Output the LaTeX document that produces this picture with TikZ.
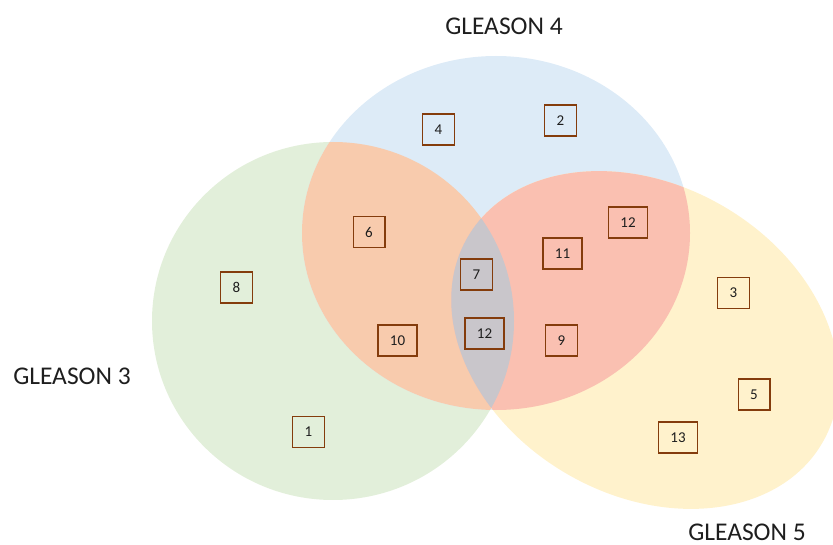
\documentclass[tikz,border=0pt]{standalone}
\usepackage{fontspec}
\setmainfont{Carlito}
\definecolor{gcol}{HTML}{E2EFDA}
\definecolor{bcol}{HTML}{DDEBF7}
\definecolor{ycol}{HTML}{FFF2CC}
\definecolor{ocol}{HTML}{F8CBAD}
\definecolor{scol}{HTML}{FAC0B1}
\definecolor{tcol}{HTML}{C9C6CB}
\definecolor{brd}{HTML}{843C0C}
\definecolor{txt}{HTML}{1E1E1E}
\tikzset{
  numbox/.style={draw=brd, line width=1.4pt, text=txt, font=\fontsize{15}{15}\selectfont,
    inner xsep=12pt, inner ysep=0pt, minimum height=31pt, minimum width=31pt},
  setlabel/.style={text=txt, font=\fontsize{25.5}{26}\selectfont, inner sep=0pt}
}
\def\greenpath{(333,321) ellipse [x radius=181pt, y radius=179pt]}
\def\bluepath{(496,233) ellipse [x radius=194pt, y radius=177pt]}
\begin{document}
\begin{tikzpicture}[x=1pt,y=-1pt]
\useasboundingbox (0,0) rectangle (833,545);
\begin{scope}
\clip (0,0) rectangle (833,545);
% base sets
\fill[gcol] \greenpath;
\fill[bcol] \bluepath;
\fill[ycol, rotate around={-30:(645,340)}] (645,340) ellipse [x radius=205pt, y radius=155pt];
% green & blue
\begin{scope}
  \clip \greenpath;
  \fill[ocol] \bluepath;
\end{scope}
% blue & yellow
\begin{scope}
  \clip \bluepath;
  \fill[scol, rotate around={-30:(645,340)}] (645,340) ellipse [x radius=205pt, y radius=155pt];
\end{scope}
% all three
\begin{scope}
  \clip \greenpath;
  \clip \bluepath;
  \fill[tcol, rotate around={-30:(645,340)}] (645,340) ellipse [x radius=205pt, y radius=155pt];
\end{scope}
\end{scope}
% labels
\node[setlabel] (g4) at (504,26) {GLEASON 4};
\node[setlabel] (g3) at (72,376) {GLEASON 3};
\node[setlabel] (g5) at (747,532) {GLEASON 5};
% boxes
\node[numbox] (n4) at (438.5,129.5) {4};
\node[numbox] (n2) at (560.5,120.5) {2};
\node[numbox] (n6) at (369,232) {6};
\node[numbox] (n8) at (236.5,287.5) {8};
\node[numbox] (n7) at (476.5,274.5) {7};
\node[numbox] (n12a) at (628,222.5) {12};
\node[numbox] (n11) at (562.5,253.5) {11};
\node[numbox] (n3) at (733.5,293) {3};
\node[numbox] (n10) at (397.5,340.5) {10};
\node[numbox] (n12b) at (484.5,333.5) {12};
\node[numbox] (n1) at (308.5,432) {1};
\node[numbox] (n9) at (561.5,340.5) {9};
\node[numbox] (n5) at (754,394.5) {5};
\node[numbox] (n13) at (678,437.5) {13};
\end{tikzpicture}
\end{document}
